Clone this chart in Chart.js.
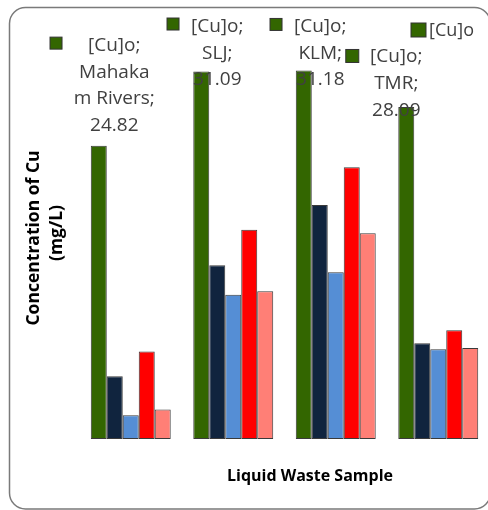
<!DOCTYPE html>
<html>
<head>
<meta charset="utf-8">
<script src="https://cdn.jsdelivr.net/npm/chart.js@4/dist/chart.umd.min.js"></script>
<style>
  html, body { margin: 0; padding: 0; background: #fff; }
  #wrap { width: 488px; height: 510px; overflow: hidden; position: relative; }
  canvas { display: block; }
</style>
</head>
<body>
<div id="wrap"><canvas id="c" width="500" height="510"></canvas></div>
<script>
// Sampling sites
const sites = ["Mahakam Rivers", "SLJ", "KLM", "TMR"];
// Copper concentration per series (mg/L)
const cuInitial = [24.82, 31.09, 31.18, 28.09];
const cuSeries2 = [5.3, 14.7, 19.8, 8.1];
const cuSeries3 = [2.0, 12.2, 14.1, 7.6];
const cuSeries4 = [7.4, 17.7, 23.0, 9.2];
const cuSeries5 = [2.5, 12.5, 17.4, 7.7];
const seriesNames = ["[Cu]o", "Series 2", "Series 3", "Series 4", "Series 5"];

const colors = ["#336600", "#10243e", "#558ed5", "#ff0000", "#ff7f76"];
const yMax = 36;

// Data-label text for the [Cu]o bars, with offsets from each bar's top-centre
const labelLines = [
  ["[Cu]o;", "Mahaka", "m Rivers;", "24.82"],
  ["[Cu]o;", "SLJ;", "31.09"],
  ["[Cu]o;", "KLM;", "31.18"],
  ["[Cu]o;", "TMR;", "28.09"]
];
const labelLayout = [
  { dx: 15.5, dy: -100, kx: -42.75, ky: -102.5, ks: 12 },
  { dx: 16,   dy: -45,  kx: -28.25, ky: -47.5,  ks: 12 },
  { dx: 16.5, dy: -44,  kx: -27.75, ky: -46,    ks: 12 },
  { dx: -10,  dy: -50,  kx: -54,    ky: -51,    ks: 13 }
];

const frame = {
  id: "frame",
  beforeDraw(chart) {
    const ctx = chart.ctx;
    ctx.save();
    ctx.fillStyle = "#fff";
    ctx.fillRect(0, 0, chart.width, chart.height);
    ctx.strokeStyle = "#7a7a7a";
    ctx.lineWidth = 1.5;
    ctx.beginPath();
    ctx.roundRect(9.5, 7.5, 481, 501.5, 16);
    ctx.stroke();
    ctx.restore();
  }
};

const annotations = {
  id: "annotations",
  afterDatasetsDraw(chart) {
    const ctx = chart.ctx;
    const meta = chart.getDatasetMeta(0);
    const lh = 26.7;
    ctx.save();
    ctx.textAlign = "center";
    ctx.textBaseline = "middle";
    ctx.font = "19px 'Open Sans'";
    meta.data.forEach((bar, i) => {
      const L = labelLayout[i];
      const cx = bar.x + L.dx;
      labelLines[i].forEach((t, j) => {
        ctx.fillStyle = "#404040";
        ctx.fillText(t, cx, bar.y + L.dy + j * lh);
      });
      const kx = bar.x + L.kx, ky = bar.y + L.ky;
      ctx.fillStyle = colors[0];
      ctx.fillRect(kx - L.ks / 2, ky - L.ks / 2, L.ks, L.ks);
      ctx.strokeStyle = "#333";
      ctx.lineWidth = 1;
      ctx.strokeRect(kx - L.ks / 2, ky - L.ks / 2, L.ks, L.ks);
    });

    // legend entry
    ctx.fillStyle = colors[0];
    ctx.fillRect(411, 23, 15, 14);
    ctx.strokeStyle = "#333";
    ctx.strokeRect(411, 23, 15, 14);
    ctx.fillStyle = "#404040";
    ctx.textAlign = "left";
    ctx.font = "18px 'Open Sans'";
    ctx.fillText(seriesNames[0], 429, 31);

    // axis titles
    ctx.fillStyle = "#000";
    ctx.font = "bold 16px 'Open Sans'";
    ctx.textAlign = "center";
    ctx.fillText("Liquid Waste Sample", 310, 476);

    ctx.font = "bold 17.5px 'Open Sans'";
    ctx.save();
    ctx.translate(34, 238);
    ctx.rotate(-Math.PI / 2);
    ctx.fillText("Concentration of Cu", 0, 0);
    ctx.restore();
    ctx.save();
    ctx.translate(57, 233);
    ctx.rotate(-Math.PI / 2);
    ctx.fillText("(mg/L)", 0, 0);
    ctx.restore();
    ctx.restore();
  }
};

const values = [cuInitial, cuSeries2, cuSeries3, cuSeries4, cuSeries5];

new Chart(document.getElementById("c"), {
  type: "bar",
  data: {
    labels: sites,
    datasets: values.map((v, k) => ({
      label: seriesNames[k],
      data: v,
      backgroundColor: colors[k],
      borderColor: "#3a3a3a",
      borderWidth: 1,
      borderSkipped: false,
      categoryPercentage: 0.78,
      barPercentage: 1.0
    }))
  },
  options: {
    responsive: false,
    animation: false,
    devicePixelRatio: 1,
    layout: { padding: { left: 79.5, right: 10.5, top: 439 - yMax * 11.82, bottom: 71 } },
    scales: {
      x: { display: false, offset: true },
      y: { display: false, min: 0, max: yMax }
    },
    plugins: { legend: { display: false }, tooltip: { enabled: false } }
  },
  plugins: [frame, annotations]
});
</script>
</body>
</html>
